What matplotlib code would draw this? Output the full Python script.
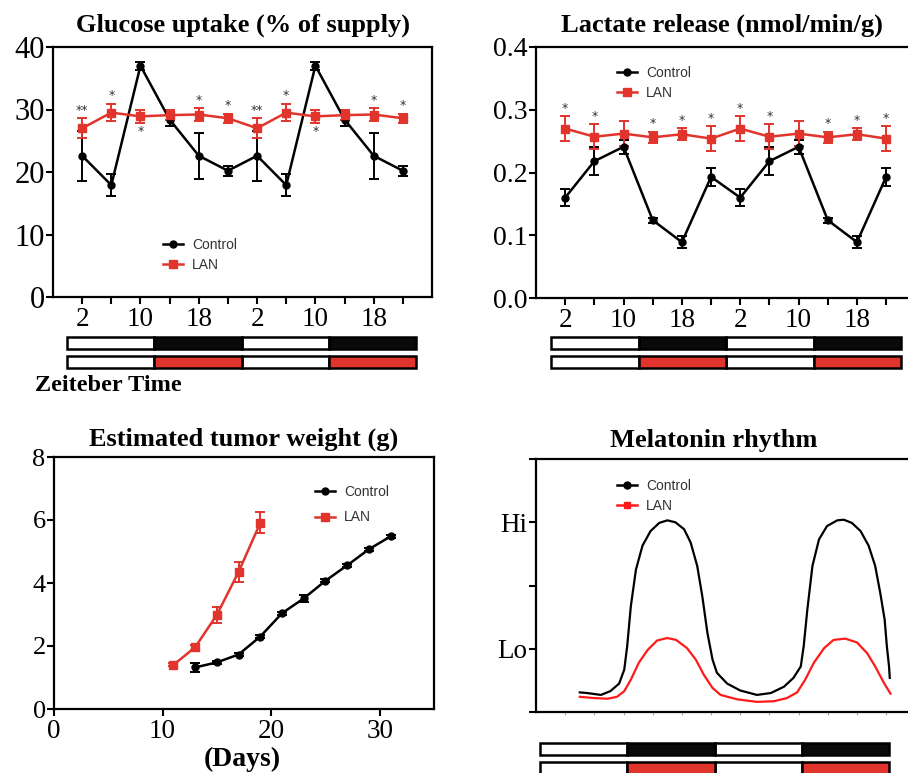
import matplotlib
matplotlib.use("Agg")
import matplotlib.pyplot as plt
from matplotlib.lines import Line2D
from matplotlib.patches import Rectangle

W, H = 908, 773
RED = "#e0342c"
SERIF = "Liberation Serif"
SANS = "Liberation Sans"

# ---- data ----
zt = [2, 6, 10, 14, 18, 22, 26, 30, 34, 38, 42, 46]
zt_labels = ["2", "", "10", "", "18", "", "2", "", "10", "", "18", ""]

glu_ctrl = [22.6, 17.9, 37.0, 28.4, 22.6, 20.2] * 2
glu_ctrl_err = [4.0, 1.8, 0.6, 1.1, 3.7, 0.8] * 2
glu_lan = [27.0, 29.5, 28.9, 29.1, 29.2, 28.6] * 2
glu_lan_err = [1.6, 1.4, 1.0, 0.8, 1.0, 0.7] * 2
glu_stars = ["**", "*", "*", "", "*", "*"] * 2
glu_star_below = [False, False, True, False, False, False] * 2

lac_ctrl = [0.160, 0.218, 0.241, 0.124, 0.089, 0.193] * 2
lac_ctrl_err = [0.013, 0.022, 0.011, 0.004, 0.010, 0.014] * 2
lac_lan = [0.270, 0.257, 0.262, 0.256, 0.261, 0.254] * 2
lac_lan_err = [0.020, 0.020, 0.020, 0.009, 0.010, 0.020] * 2
lac_stars = ["*", "*", "", "*", "*", "*"] * 2

days_ctrl = [13, 15, 17, 19, 21, 23, 25, 27, 29, 31]
wt_ctrl = [1.32, 1.48, 1.73, 2.30, 3.04, 3.51, 4.07, 4.56, 5.07, 5.48]
wt_ctrl_err = [0.13, 0.04, 0.04, 0.05, 0.05, 0.11, 0.05, 0.05, 0.05, 0.04]
days_lan = [11, 13, 15, 17, 19]
wt_lan = [1.40, 1.96, 2.99, 4.35, 5.91]
wt_lan_err = [0.05, 0.08, 0.25, 0.33, 0.33]

mel_ctrl_t = [4.0, 5.0, 6.9, 8.2, 9.4, 10.1, 10.5, 11.0, 11.7, 12.6, 13.7, 14.9,
              16.0, 17.1, 18.3, 19.2, 20.1, 20.8, 21.5, 22.2, 22.8, 24.2, 26.0,
              28.3, 30.2, 32.0, 33.3, 34.3, 34.7, 35.2, 35.9, 36.8, 37.9, 39.3,
              40.2, 41.3, 42.5, 43.6, 44.5, 45.2, 45.8, 46.1, 46.4, 46.5]
mel_ctrl = [0.31, 0.30, 0.27, 0.33, 0.45, 0.67, 1.04, 1.67, 2.25, 2.63, 2.86, 2.99,
            3.03, 3.00, 2.89, 2.68, 2.31, 1.83, 1.25, 0.83, 0.62, 0.45, 0.34,
            0.27, 0.30, 0.40, 0.54, 0.72, 1.04, 1.62, 2.31, 2.73, 2.94, 3.03,
            3.04, 2.99, 2.86, 2.63, 2.31, 1.88, 1.46, 1.04, 0.72, 0.54]
mel_lan_t = [4.0, 6.0, 7.8, 9.1, 10.1, 11.0, 12.1, 13.3, 14.6, 16.0, 17.2, 18.7,
             19.9, 21.0, 22.2, 23.3, 25.6, 28.3, 30.6, 32.4, 33.8, 34.9, 36.1,
             37.5, 38.8, 40.4, 42.0, 43.4, 44.5, 45.7, 46.6]
mel_lan = [0.24, 0.22, 0.21, 0.24, 0.33, 0.51, 0.78, 0.98, 1.13, 1.17, 1.14, 1.01,
           0.83, 0.59, 0.38, 0.27, 0.20, 0.16, 0.17, 0.22, 0.31, 0.51, 0.78,
           1.01, 1.14, 1.16, 1.10, 0.93, 0.72, 0.46, 0.29]

light_on = [0, 24]
dark_on = [12, 36]
phase_len = 12


def px_axes(fig, x0, y0, x1, y1):
    return fig.add_axes([x0 / W, 1 - y1 / H, (x1 - x0) / W, (y1 - y0) / H])


def style(ax, right=True, xsize=20, ysize=18):
    for s in ["left", "bottom", "top", "right"]:
        ax.spines[s].set_linewidth(1.6)
    ax.spines["right"].set_visible(right)
    ax.tick_params(axis="both", direction="out", width=1.5, length=5)
    ax.tick_params(axis="x", labelsize=xsize, pad=2)
    ax.tick_params(axis="y", labelsize=ysize, pad=1)
    for lab in ax.get_xticklabels() + ax.get_yticklabels():
        lab.set_family(SERIF)


def legend(ax, x, y, spacing=0.45, handles=None):
    kw = dict(loc="center left", bbox_to_anchor=(x, y), frameon=False,
              borderpad=0, borderaxespad=0, handlelength=1.45, handletextpad=0.65,
              labelspacing=spacing, prop={"family": SANS, "size": 10},
              labelcolor="#333333")
    if handles:
        ax.legend(handles=handles, **kw)
    else:
        ax.legend(**kw)


def series(ax, x, y, err, color, marker, label, ms):
    ax.errorbar(x, y, yerr=err, fmt="none", ecolor=color, elinewidth=1.4,
                capsize=3.5, capthick=1.4, zorder=2)
    ax.plot(x, y, color=color, marker=marker, ms=ms, lw=1.8, label=label, zorder=3)


def bars(fig, x0, x1, y0, y1):
    ax = px_axes(fig, x0, y0, x1, y1)
    ax.set_xlim(0, 48)
    ax.set_ylim(0, 1)
    ax.axis("off")
    for top, dark_col in [(True, "#0a0a0a"), (False, RED)]:
        yb = 0.61 if top else 0.0
        for t in light_on:
            ax.add_patch(Rectangle((t, yb), phase_len, 0.39, fc="white", ec="black", lw=1.8, clip_on=False))
        for t in dark_on:
            ax.add_patch(Rectangle((t, yb), phase_len, 0.39, fc=dark_col, ec="black", lw=1.8, clip_on=False))


def title(ax, txt, pad, x=0.5):
    ax.set_title(txt, family=SERIF, weight="bold", fontsize=19, pad=pad, x=x)


fig = plt.figure(figsize=(W / 100, H / 100), dpi=100)

# ---- Glucose uptake ----
ax1 = px_axes(fig, 53, 47, 432, 297)
series(ax1, zt, glu_ctrl, glu_ctrl_err, "black", "o", "Control", 5)
series(ax1, zt, glu_lan, glu_lan_err, RED, "s", "LAN", 5.5)
for x, m, e, s, below in zip(zt, glu_lan, glu_lan_err, glu_stars, glu_star_below):
    if s:
        if below:
            ax1.annotate(s, (x, m - e), xytext=(0, -2), textcoords="offset points",
                         ha="center", va="top", fontsize=9, color="#333333")
        else:
            ax1.annotate(s, (x, m + e), xytext=(0, 1), textcoords="offset points",
                         ha="center", va="bottom", fontsize=9, color="#333333")
ax1.set_xlim(-2, 50)
ax1.set_ylim(0, 40)
ax1.set_yticks([0, 10, 20, 30, 40])
ax1.set_xticks(zt)
ax1.set_xticklabels(zt_labels)
style(ax1, right=True, xsize=19.5, ysize=22)
title(ax1, "Glucose uptake (% of supply)", pad=11)
legend(ax1, 0.29, 0.168)
bars(fig, 67, 416, 337, 368)
fig.text(35 / W, 1 - 391 / H, "Zeiteber Time", family=SERIF, weight="bold",
         fontsize=17.5, ha="left", va="baseline")

# ---- Lactate release ----
ax2 = px_axes(fig, 536, 47, 908, 298)
series(ax2, zt, lac_ctrl, lac_ctrl_err, "black", "o", "Control", 5)
series(ax2, zt, lac_lan, lac_lan_err, RED, "s", "LAN", 5.5)
for x, m, e, s in zip(zt, lac_lan, lac_lan_err, lac_stars):
    if s:
        ax2.annotate(s, (x, m + e), xytext=(0, 1), textcoords="offset points",
                     ha="center", va="bottom", fontsize=9, color="#333333")
ax2.set_xlim(-2, 49)
ax2.set_ylim(0, 0.4)
ax2.set_yticks([0.0, 0.1, 0.2, 0.3, 0.4])
ax2.set_yticklabels(["0.0", "0.1", "0.2", "0.3", "0.4"])
ax2.set_xticks(zt)
ax2.set_xticklabels(zt_labels)
style(ax2, right=False, xsize=19.5, ysize=20)
title(ax2, "Lactate release (nmol/min/g)", pad=11)
legend(ax2, 0.218, 0.857)
bars(fig, 551, 901, 337, 368)

# ---- Tumor weight ----
ax3 = px_axes(fig, 54, 457, 434, 709)
series(ax3, days_ctrl, wt_ctrl, wt_ctrl_err, "black", "o", "Control", 5)
series(ax3, days_lan, wt_lan, wt_lan_err, RED, "s", "LAN", 5.5)
ax3.set_xlim(0, 35)
ax3.set_ylim(0, 8)
ax3.set_xticks([0, 10, 20, 30])
ax3.set_yticks([0, 2, 4, 6, 8])
style(ax3, right=True, xsize=19.5, ysize=19)
title(ax3, "Estimated tumor weight (g)", pad=8.5)
fig.text(242 / W, 1 - 766 / H, "(Days)", family=SERIF, weight="bold",
         fontsize=20, ha="center", va="baseline")
legend(ax3, 0.687, 0.81, spacing=0.8)

# ---- Melatonin rhythm ----
ax4 = px_axes(fig, 536, 459, 908, 712)
ax4.plot(mel_ctrl_t, mel_ctrl, color="black", lw=1.6)
ax4.plot(mel_lan_t, mel_lan, color="#ff1a1a", lw=1.6)
ax4.set_xlim(-2, 49)
ax4.set_ylim(0, 4)
ax4.set_yticks([0, 1, 2, 3, 4])
ax4.set_yticklabels(["", "Lo", "", "Hi", ""])
ax4.set_xticks(zt)
ax4.set_xticklabels([])
style(ax4, right=False, xsize=20, ysize=19.5)
ax4.tick_params(axis="x", length=2, width=0.8, color="#aaaaaa")
title(ax4, "Melatonin rhythm", pad=8.5, x=0.478)
handles = [Line2D([], [], color="black", marker="o", ms=5, lw=1.8, label="Control"),
           Line2D([], [], color="#ff1a1a", marker="s", ms=5, lw=1.8, label="LAN")]
legend(ax4, 0.218, 0.854, handles=handles)
bars(fig, 540, 889, 743, 774)

fig.savefig("out.png", dpi=100)
